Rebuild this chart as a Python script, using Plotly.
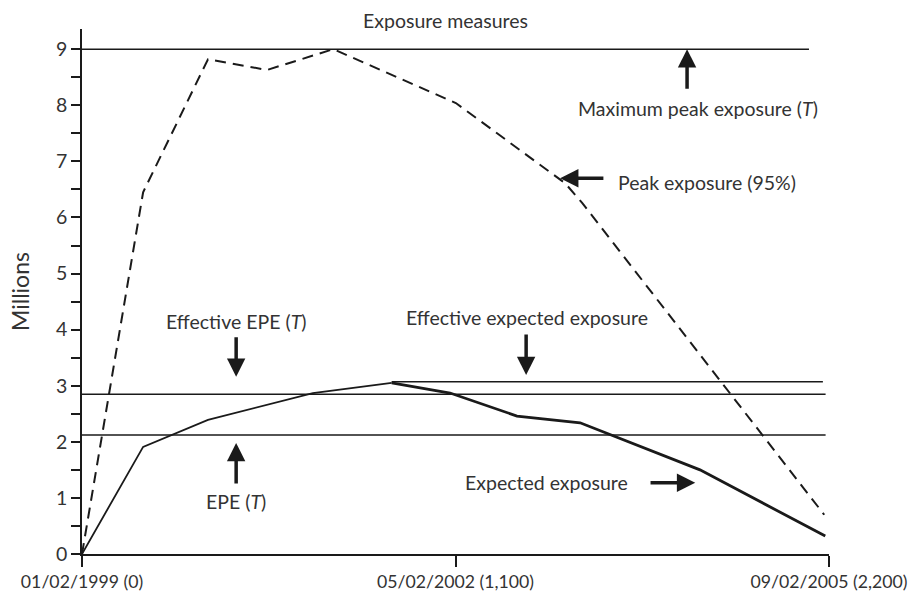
import plotly.graph_objects as go

# ---------------- data ----------------
# Expected exposure (rising part, thin) and (falling part, bold)
ee_rise_t = [0, 180, 371, 680, 912]
ee_rise_v = [0, 1.91, 2.39, 2.87, 3.05]
ee_fall_t = [912, 1084, 1281, 1467, 1820, 2189]
ee_fall_v = [3.05, 2.87, 2.46, 2.34, 1.50, 0.32]

# Peak exposure (95%)
pk_t = [0, 180, 371, 545, 740, 1101, 1423, 1473, 2186]
pk_v = [0, 6.45, 8.82, 8.63, 9.0, 8.04, 6.61, 6.26, 0.70]

# Horizontal measures
level_names = ["Maximum peak exposure (T)", "Effective expected exposure", "Effective EPE (T)", "EPE (T)"]
level_values = [9.0, 3.07, 2.85, 2.12]
level_start = [0, 912, 0, 0]
level_end = [2141, 2182, 2190, 2190]

x_tick_vals = [0, 1100, 2200]
x_tick_text = ["01/02/1999 (0)", "05/02/2002 (1,100)", "09/02/2005 (2,200)"]
y_tick_vals = [0, 1, 2, 3, 4, 5, 6, 7, 8, 9]

FONT = "Lato, 'Open Sans', sans-serif"
TXT = "#333333"
INK = "#1a1a1a"
LBL = 19.5

fig = go.Figure()

for name, v, s, e in zip(level_names, level_values, level_start, level_end):
    fig.add_trace(go.Scatter(x=[s, e], y=[v, v], mode="lines",
                             line=dict(color=INK, width=1.5), name=name,
                             showlegend=False, hoverinfo="skip"))

fig.add_trace(go.Scatter(x=pk_t, y=pk_v, mode="lines",
                         line=dict(color=INK, width=2, dash="11px,7px"),
                         name="Peak exposure (95%)", showlegend=False))
fig.add_trace(go.Scatter(x=ee_rise_t, y=ee_rise_v, mode="lines",
                         line=dict(color=INK, width=1.8),
                         name="Expected exposure", showlegend=False))
fig.add_trace(go.Scatter(x=ee_fall_t, y=ee_fall_v, mode="lines",
                         line=dict(color=INK, width=2.8),
                         name="Expected exposure", showlegend=False))

# annotations: text labels
labels = [
    ("Maximum peak exposure (<i>T</i>)", 1814, 7.95),
    ("Peak exposure (95%)", 1841, 6.63),
    ("Effective EPE (<i>T</i>)", 454, 4.14),
    ("EPE (<i>T</i>)", 454, 0.93),
    ("Effective expected exposure", 1311, 4.21),
    ("Expected exposure", 1367, 1.27),
]
for txt, x, y in labels:
    fig.add_annotation(x=x, y=y, text=txt, showarrow=False,
                       font=dict(family=FONT, size=LBL, color=TXT),
                       xanchor="center", yanchor="middle")

# arrows: (tip x, tip y, tail x, tail y)
arrows = [
    (1782, 9.0, 1782, 8.27),
    (1408, 6.70, 1540, 6.70),
    (454, 3.16, 454, 3.89),
    (454, 1.98, 454, 1.23),
    (1308, 3.19, 1308, 3.94),
    (1806, 1.27, 1670, 1.27),
]
for tx, ty, sx, sy in arrows:
    fig.add_annotation(x=tx, y=ty, ax=sx, ay=sy, xref="x", yref="y",
                       axref="x", ayref="y", text="", showarrow=True,
                       arrowhead=2, arrowsize=1.05, arrowwidth=3.5,
                       arrowcolor=INK)

fig.add_annotation(x=(445 - 82) / 747, y=(554 - 21) / 525, xref="paper", yref="paper",
                   text="Exposure measures", showarrow=False,
                   font=dict(family=FONT, size=LBL, color=TXT),
                   xanchor="center", yanchor="middle")

fig.update_layout(
    width=910, height=594,
    margin=dict(l=82, r=81, t=29, b=40),
    plot_bgcolor="white", paper_bgcolor="white",
    font=dict(family=FONT, size=18, color=TXT),
    showlegend=False,
    xaxis=dict(range=[0, 2200], tickvals=x_tick_vals, ticktext=x_tick_text,
               automargin=False, ticklabeloverflow="allow",
               showgrid=False, zeroline=False, showline=True,
               linecolor=INK, linewidth=1.5, ticks="outside", ticklen=11,
               tickwidth=1.5, tickcolor=INK,
               tickfont=dict(family=FONT, size=17.7, color=TXT)),
    yaxis=dict(range=[0, 9.36], tickvals=y_tick_vals, automargin=False,
               showgrid=False, zeroline=False, showline=True,
               linecolor=INK, linewidth=1.5, ticks="outside", ticklen=9,
               tickwidth=1.5, tickcolor=INK,
               minor=dict(dtick=0.5, tick0=0, ticks="outside", ticklen=9,
                          tickwidth=1.5, tickcolor=INK, showgrid=False),
               title=dict(text="Millions", standoff=20,
                          font=dict(family=FONT, size=23, color=TXT)),
               tickfont=dict(family=FONT, size=19.5, color=TXT)),
)

# remove the default page margin so the 910x594 figure fills the window exactly
fig.write_html("out.html", config={"displayModeBar": False},
               post_script="document.body.style.margin='0';document.body.style.overflow='hidden';")
